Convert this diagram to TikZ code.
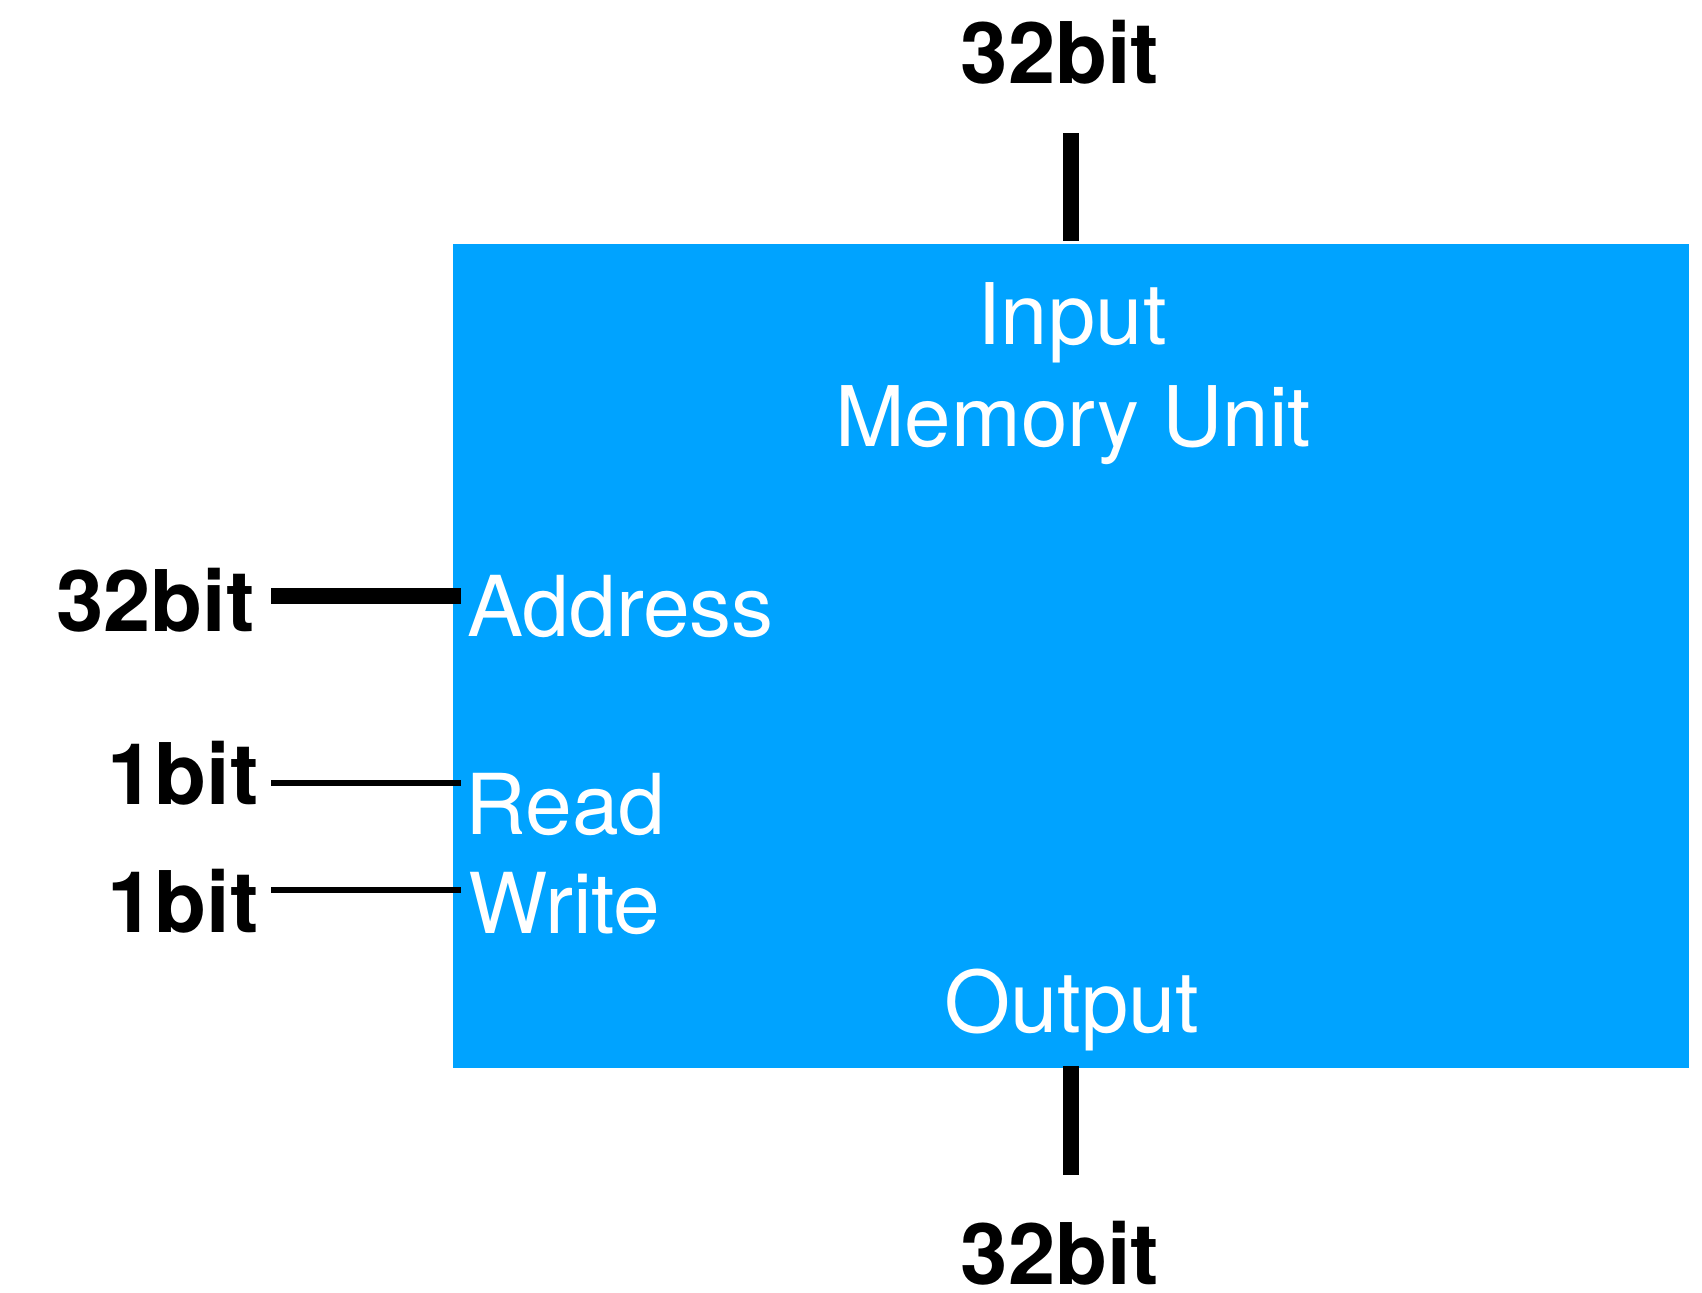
\documentclass[tikz,border=0pt]{standalone}
\usepackage{fontspec}
\setmainfont{TeX Gyre Heros}
\definecolor{memblue}{RGB}{0,163,255}
\begin{document}
\begin{tikzpicture}[x=0.5pt,y=-0.5pt,
  bits/.style={inner sep=0pt, font=\fontsize{42.5}{50}\selectfont\bfseries},
  port/.style={inner sep=0pt, text=white, font=\fontsize{42.5}{50}\selectfont},
  sideport/.style={port, font=\fontsize{42}{50}\selectfont},
  bus/.style={line width=8pt},
  wire/.style={line width=3pt}]
\useasboundingbox (0,0) rectangle (1702,1292);

% memory unit block
\node (mem) [fill=memblue, inner sep=0pt, minimum width=618pt, minimum height=412pt,
  anchor=north west] at (453,244) {};

% labels inside the block
\node (in)   [port, anchor=base] at (1072,344) {Input};
\node (name) [port, font=\fontsize{41.8}{50}\selectfont, anchor=base] at (1073,446) {Memory Unit};
\node (out)  [port, anchor=base] at (1072,1032) {Output};
\node (addr) [sideport, anchor=base west] at (467,636) {Address};
\node (rd)   [sideport, anchor=base west] at (465,834) {Read};
\node (wr)   [sideport, anchor=base west] at (468,933) {Write};

% bit widths
\node (wtop)  [bits, anchor=base] at (1060,83) {32bit};
\node (wbot)  [bits, anchor=base] at (1060,1284) {32bit};
\node (waddr) [bits, anchor=base east] at (255,631) {32bit};
\node (wrd)   [bits, anchor=base east] at (259,804) {1bit};
\node (wwr)   [bits, anchor=base east] at (259,932) {1bit};

% pin end points
\coordinate (topA) at (1071,133);
\coordinate (topB) at (1071,241);
\coordinate (botA) at (1071,1066);
\coordinate (botB) at (1071,1175);
\coordinate (addrA) at (271,596);
\coordinate (addrB) at (461,596);
\coordinate (rdA) at (271,783);
\coordinate (rdB) at (461,783);
\coordinate (wrA) at (271,890);
\coordinate (wrB) at (461,890);

% connections
\draw[bus]  (topA) -- (topB);
\draw[bus]  (botA) -- (botB);
\draw[bus]  (addrA) -- (addrB);
\draw[wire] (rdA) -- (rdB);
\draw[wire] (wrA) -- (wrB);
\end{tikzpicture}
\end{document}
